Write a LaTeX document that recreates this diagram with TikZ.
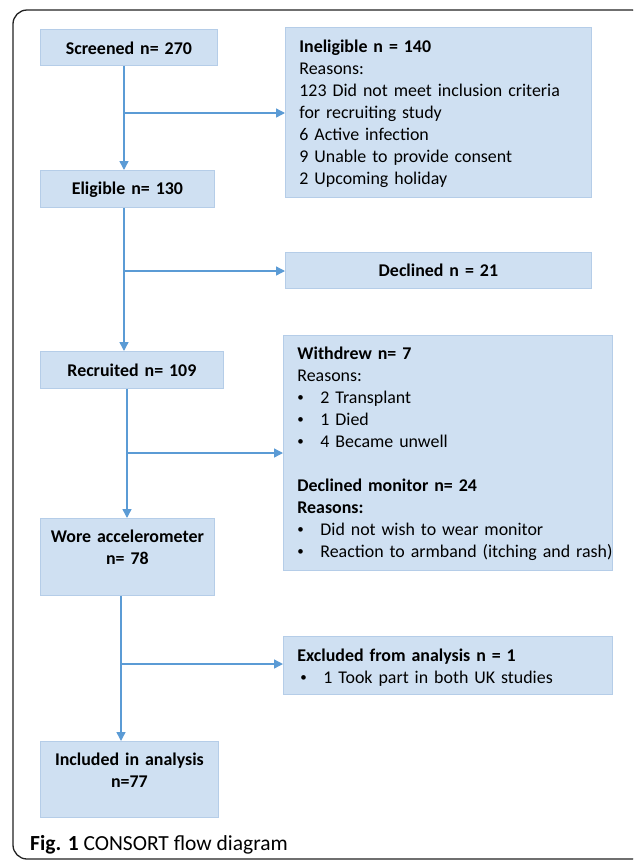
\documentclass[tikz,border=0pt]{standalone}
\usepackage{fontspec}
\setmainfont{Carlito}
\usetikzlibrary{arrows.meta}
\definecolor{boxfill}{HTML}{CFE0F2}
\definecolor{boxline}{HTML}{B5CDE8}
\definecolor{flowblue}{HTML}{5B9BD5}
\definecolor{framegray}{HTML}{222222}
\newcommand{\bul}{\makebox[23pt][l]{\raisebox{1.5pt}{\fontsize{13}{13}\selectfont\textbullet}}}
\begin{document}
\begin{tikzpicture}[x=1pt,y=-1pt,
  box/.style={draw=boxline, line width=0.8pt, fill=boxfill, inner ysep=0pt,
    font=\fontsize{17.9}{22}\selectfont, anchor=north west},
  cbox/.style={box, inner xsep=0pt, align=center},
  lbox/.style={box, inner xsep=14pt, align=left},
  flow/.style={draw=flowblue, line width=1.4pt},
  arr/.style={flow, -{Triangle[length=9pt,width=9pt]}},
  framestyle/.style={draw=framegray, line width=1.3pt, rounded corners=14pt}
]
\fill[white] (0,0) rectangle (633,860);
\useasboundingbox (0,0) rectangle (633,860);
\clip (0,0) rectangle (633,860);
\draw[framestyle] (13,10) rectangle (646,859);

% left column
\node[cbox, text width=177pt, text height=25pt, text depth=11pt] (screened) at (40,29) {\textbf{Screened n= 270}};
\node[cbox, text width=174pt, text height=24pt, text depth=13pt] (eligible) at (40,170) {\textbf{Eligible n= 130}};
\node[cbox, text width=183pt, text height=25pt, text depth=12pt] (recruited) at (40,351) {\textbf{Recruited n= 109}};
\node[cbox, text width=174pt, text height=24pt, text depth=53pt] (wore) at (40,518) {\textbf{Wore accelerometer}\\\textbf{n= 78}};
\node[cbox, text width=178pt, text height=24pt, text depth=52pt] (included) at (40,741) {\textbf{Included in analysis}\\\textbf{n=77}};

% right column
\node[lbox, text width=278pt, text height=25pt, text depth=145pt] (inel) at (285,27)
  {\textbf{Ineligible n = 140}\\ Reasons:\\ 123 Did not meet inclusion criteria\\ for recruiting study\\ 6 Active infection\\ 9 Unable to provide consent\\ 2 Upcoming holiday};
\node[cbox, text width=306pt, text height=24pt, text depth=12pt] (declined) at (285,252) {\textbf{Declined n = 21}};
\node[lbox, text width=301pt, text height=24pt, text depth=211pt] (withdrew) at (283,335)
  {\textbf{Withdrew n= 7}\\ Reasons:\\ \bul 2 Transplant\\ \bul 1 Died\\ \bul 4 Became unwell\\[22pt]
   \textbf{Declined monitor n= 24}\\ \textbf{Reasons:}\\ \bul Did not wish to wear monitor\\ \mbox{\bul Reaction to armband (itching and rash)}};
\node[lbox, text width=301pt, text height=25pt, text depth=33pt] (excluded) at (283,636)
  {\textbf{Excluded from analysis n = 1}\\ \hspace*{3pt}\bul 1 Took part in both UK studies};

% branch points
\coordinate (b1) at (124,113);
\coordinate (b2) at (124,271);
\coordinate (b3) at (127,453);
\coordinate (b4) at (121,664);

% connectors
\draw[arr] (screened.south -| b1) -- (eligible.north -| b1);
\draw[arr] (b1) -- (b1 -| inel.west);
\draw[arr] (eligible.south -| b2) -- (recruited.north -| b2);
\draw[arr] (b2) -- (b2 -| declined.west);
\draw[arr] (recruited.south -| b3) -- (wore.north -| b3);
\draw[arr] (b3) -- (b3 -| withdrew.west);
\draw[arr] (wore.south -| b4) -- (included.north -| b4);
\draw[arr] (b4) -- (b4 -| excluded.west);

% caption
\node[anchor=base west, inner sep=0pt, font=\fontsize{21.5}{24}\selectfont] (caption) at (30,850)
  {\textbf{Fig. 1} CONSORT flow diagram};
\end{tikzpicture}
\end{document}
